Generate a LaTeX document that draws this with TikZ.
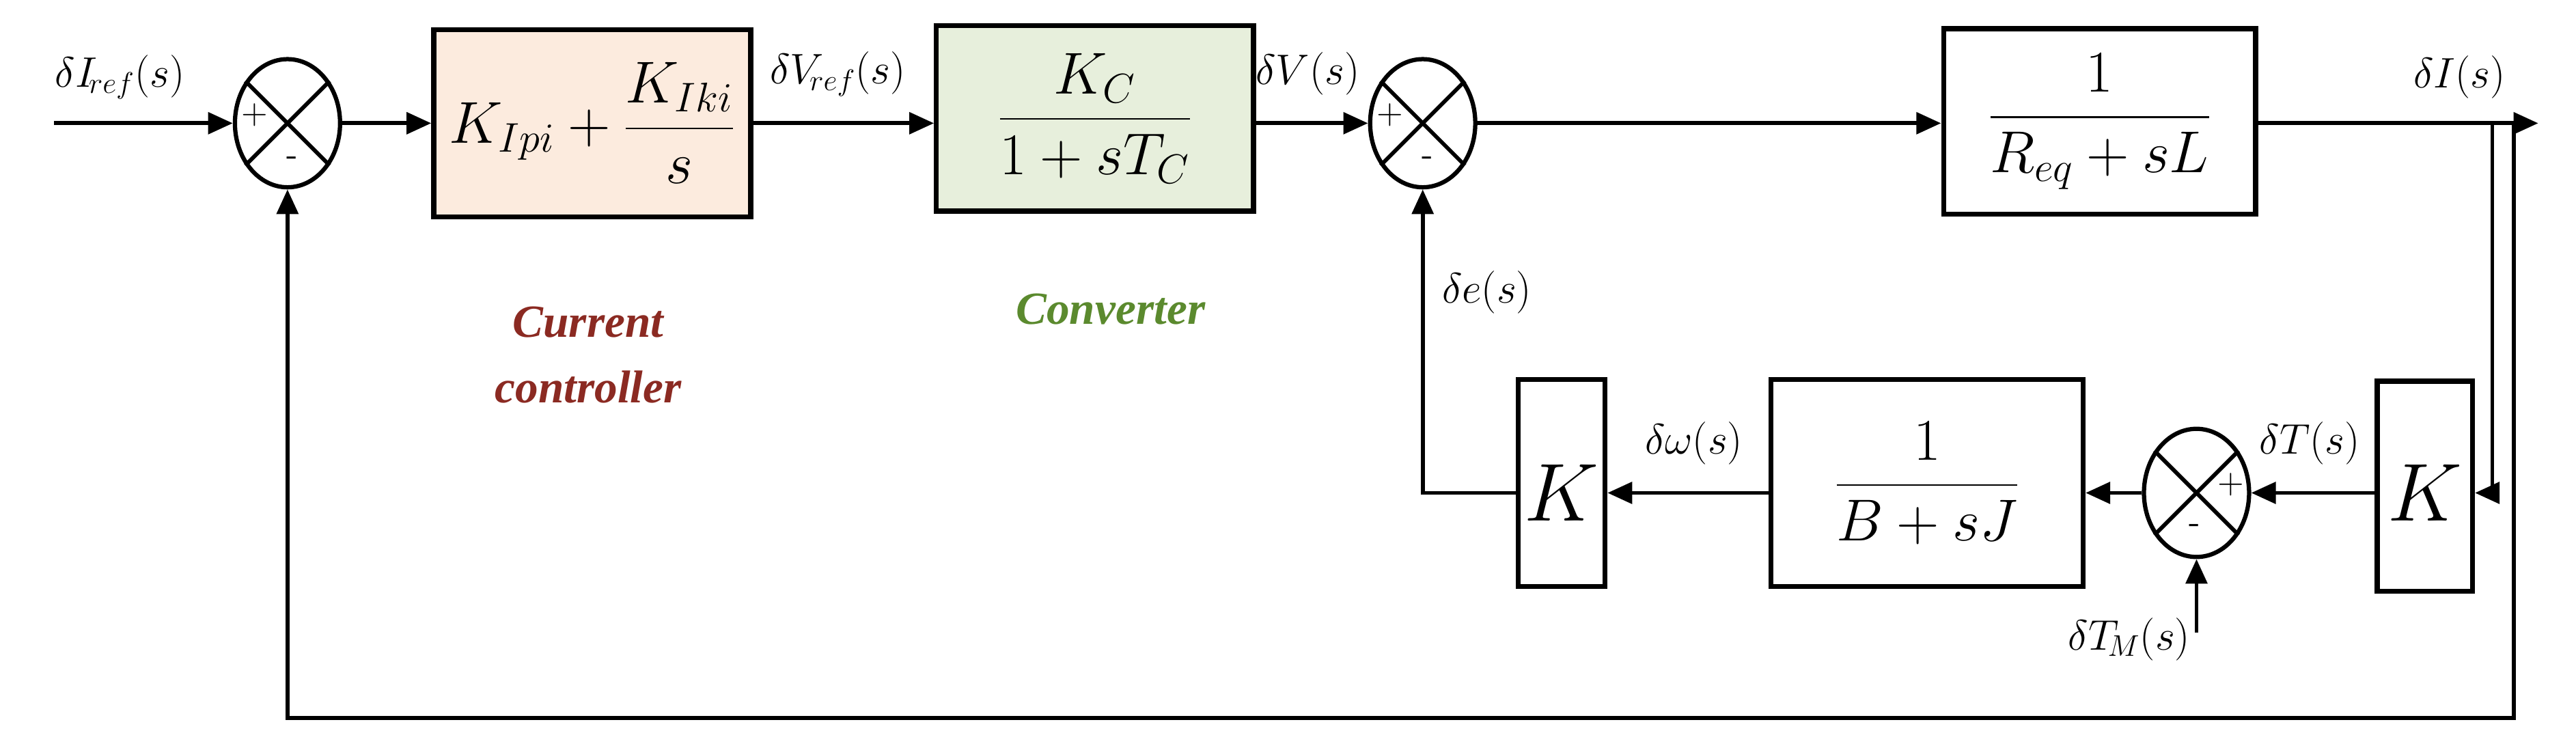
\RequirePackage{fix-cm}
\documentclass[tikz,border=0pt]{standalone}
\usepackage{amsmath}
\usepackage{fontspec}
\setmainfont{Liberation Serif}
\usetikzlibrary{shapes.geometric,arrows.meta}
\definecolor{pifill}{HTML}{FCEBDE}
\definecolor{cvfill}{HTML}{E7EFDC}
\definecolor{ccred}{HTML}{8B2A22}
\definecolor{cvgreen}{HTML}{5B8A2E}
\begin{document}
\begin{tikzpicture}[x=1pt,y=-1pt,
  ln/.style={line width=2.4pt},
  ar/.style={ln,-{Triangle[length=15pt,width=13pt]}},
  blk/.style={draw,line width=3pt,inner sep=0pt},
  sum/.style={draw,ellipse,line width=2.6pt,minimum width=64pt,minimum height=78pt,inner sep=0pt},
  lbl/.style={font=\fontsize{26}{30}\selectfont},
  big/.style={font=\fontsize{36}{42}\selectfont},
  pm/.style={font=\fontsize{22}{24}\selectfont\sffamily}]
\useasboundingbox (0,0) rectangle (1568,454);
% summing junctions
\node[sum] (s1) at (175,75) {};
\node[sum] (s2) at (866,75) {};
\node[sum] (s3) at (1337,300) {};
\foreach \s in {s1,s2,s3}{
  \draw[line width=2.4pt] (\s.135) -- (\s.-45);
  \draw[line width=2.4pt] (\s.45) -- (\s.-135);}
\node[pm] at (155,70) {+};
\node[pm] at (178,98) {-};
\node[pm] at (846,70) {+};
\node[pm] at (869,98) {-};
\node[pm] at (1358,295) {+};
\node[pm] at (1336,322) {-};
% blocks
\node[blk,fill=pifill,minimum width=193pt,minimum height=114pt] (pi) at (360.5,75) {};
\node[big] at (360.5,75) {$K_{Ipi}+\dfrac{K_{Iki}}{s}$};
\node[blk,fill=cvfill,minimum width=193pt,minimum height=113pt] (cv) at (666.5,72) {};
\node[big] at (666.5,72) {$\dfrac{K_C}{1+sT_C}$};
\node[blk,minimum width=190pt,minimum height=113pt] (pl) at (1278,74) {};
\node[big] at (1278,74) {$\dfrac{1}{R_{eq}+sL}$};
\node[blk,minimum width=58pt,minimum height=128pt] (k2) at (1476,296) {};
\node[font=\fontsize{50}{56}\selectfont] at (1476,300) {$K$};
\node[blk,minimum width=190pt,minimum height=126pt] (me) at (1173,294) {};
\node[big] at (1173,294) {$\dfrac{1}{B+sJ}$};
\node[blk,minimum width=53pt,minimum height=126pt] (k1) at (950.5,294) {};
\node[font=\fontsize{50}{56}\selectfont] at (950.5,300) {$K$};
% coordinates
\coordinate (in) at (33,75);
\coordinate (out) at (1545,75);
\coordinate (b1) at (1517,75);
\coordinate (b1d) at (1517,300);
\coordinate (b2) at (1530,75);
\coordinate (b2d) at (1530,437);
\coordinate (bl) at (175,437);
\coordinate (ek) at (866,300);
\coordinate (tm) at (1337,385);
% connectors
\draw[ar] (in) -- (s1.west);
\draw[ar] (s1.east) -- (pi.west|-s1.east);
\draw[ar] (pi.east|-s1.east) -- (cv.west|-s1.east);
\draw[ar] (cv.east|-s2.west) -- (s2.west);
\draw[ar] (s2.east) -- (pl.west|-s2.east);
\draw[ar] (pl.east|-out) -- (out);
\draw[ar] (b1) -- (b1d) -- (k2.east|-b1d);
\draw[ar] (b2) -- (b2d) -- (bl) -- (s1.south);
\draw[ar] (k2.west|-s3) -- (s3.east);
\draw[ar] (s3.west) -- (me.east|-s3);
\draw[ar] (me.west|-ek) -- (k1.east|-ek);
\draw[ar] (k1.west|-ek) -- (ek) -- (s2.south);
\draw[ar] (tm) -- (s3.south);
% labels
\node[lbl] at (73,47) {$\delta I_{\!ref}(s)$};
\node[lbl] at (510,45) {$\delta V_{\!ref}(s)$};
\node[lbl] at (796,45) {$\delta V(s)$};
\node[lbl] at (1497,47) {$\delta I(s)$};
\node[lbl] at (905,178) {$\delta e(s)$};
\node[lbl] at (1031,270) {$\delta\omega(s)$};
\node[lbl] at (1406,270) {$\delta T(s)$};
\node[lbl] at (1296,389) {$\delta T_{\!M}(s)$};
\node[font=\fontsize{28}{40}\selectfont\bfseries\itshape,text=ccred,align=center] at (358,216) {Current\\controller};
\node[font=\fontsize{28}{32}\selectfont\bfseries\itshape,text=cvgreen] at (676,188) {Converter};
\end{tikzpicture}
\end{document}
